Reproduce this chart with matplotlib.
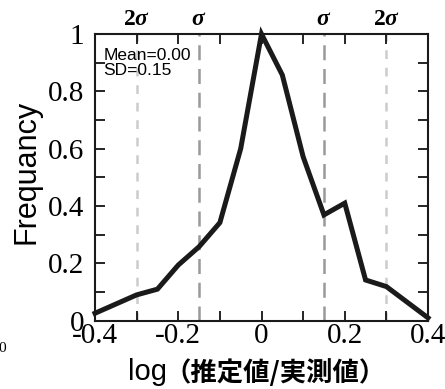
import matplotlib
matplotlib.use('Agg')
import matplotlib.pyplot as plt
import matplotlib.ticker as ticker

x = [-0.4, -0.3, -0.25, -0.2, -0.15, -0.1, -0.05, 0.0, 0.05, 0.1, 0.15, 0.2, 0.25, 0.3, 0.4]
freq = [0.026, 0.09, 0.11, 0.194, 0.258, 0.342, 0.60, 1.0, 0.857, 0.572, 0.369, 0.41, 0.142, 0.119, 0.01]

sd = 0.15
sigma_pos = [-2 * sd, -sd, sd, 2 * sd]
sigma_labels = ['2', '', '', '2']

plt.rcParams['mathtext.fontset'] = 'custom'
plt.rcParams['mathtext.rm'] = 'Liberation Serif:bold'
plt.rcParams['mathtext.it'] = 'Liberation Serif:italic:bold'

fig = plt.figure(figsize=(4.45, 3.89), dpi=100)
ax = fig.add_axes([0.2135, 0.1756, 0.7483, 0.737])

# sigma lines
ax.axvline(-sd, color='#999999', lw=1.8, dashes=(6, 3.5), zorder=1)
ax.axvline(sd, color='#999999', lw=1.8, dashes=(6, 3.5), zorder=1)
ax.axvline(-2 * sd, color='#cccccc', lw=1.8, dashes=(3.5, 3.5), zorder=1)
ax.axvline(2 * sd, color='#cccccc', lw=1.8, dashes=(3.5, 3.5), zorder=1)

ax.plot(x, freq, color='#1a1a1a', lw=3.6, solid_joinstyle='miter', zorder=3, clip_on=False)

ax.set_xlim(-0.4, 0.4)
ax.set_ylim(0, 1)
ax.set_xticks([-0.4, -0.2, 0, 0.2, 0.4])
ax.set_xticklabels(['-0.4', '-0.2', '0', '0.2', '0.4'])
ax.set_yticks([0, 0.2, 0.4, 0.6, 0.8, 1])
ax.set_yticklabels(['0', '0.2', '0.4', '0.6', '0.8', '1'])
ax.xaxis.set_minor_locator(ticker.MultipleLocator(0.1))
ax.yaxis.set_minor_locator(ticker.MultipleLocator(0.1))
ax.tick_params(which='both', direction='in', top=True, right=True, width=1.2, length=7)
ax.tick_params(axis='x', which='major', labelsize=21, pad=2)
ax.tick_params(axis='y', which='major', labelsize=21, pad=8)
for lab in ax.get_xticklabels() + ax.get_yticklabels():
    lab.set_fontfamily('Liberation Serif')
for s in ax.spines.values():
    s.set_linewidth(1.5)
    s.set_color('#1a1a1a')

for p, lab in zip(sigma_pos, sigma_labels):
    ax.text(p, 1.015, '$' + lab + r'\sigma$', ha='center', va='bottom',
            fontsize=17, transform=ax.get_xaxis_transform())

ax.text(0.025, 0.95, 'Mean=0.00\nSD=0.15', transform=ax.transAxes, ha='left', va='top',
        fontsize=12.5, family='Liberation Sans', linespacing=1.0)

ax.set_ylabel('Frequancy', fontsize=22, family='Liberation Sans')
ax.yaxis.set_label_coords(-0.16, 0.52)

# x label: "log" regular, Japanese part bold
fig.text(167 / 445, 1 - 372 / 389, 'log', fontsize=21, family='Liberation Sans',
         ha='right', va='center')
fig.text(165 / 445, 1 - 373 / 389, '（推定値/実測値）', fontsize=19,
         family=['Noto Sans CJK JP', 'DejaVu Sans'], fontweight='bold', ha='left', va='center')

fig.text(-0.003, 0.105, '0', fontsize=11, family='Liberation Serif', va='center')

fig.savefig('out.png', dpi=100)
